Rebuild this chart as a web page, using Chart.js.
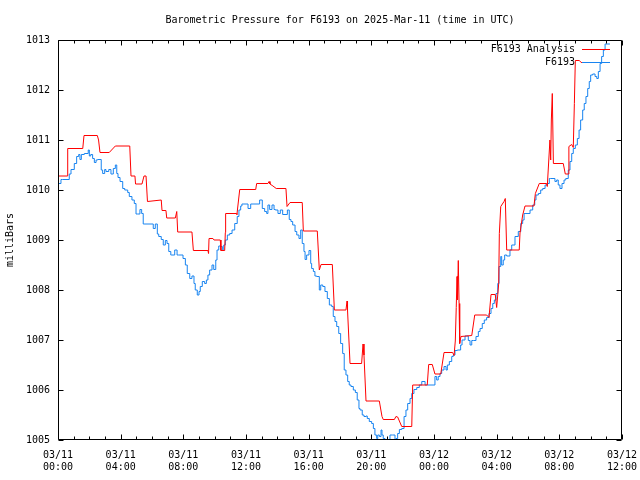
<!DOCTYPE html>
<html>
<head>
<meta charset="utf-8">
<title>Barometric Pressure for F6193</title>
<script src="https://cdn.jsdelivr.net/npm/chart.js@4.4.1/dist/chart.umd.min.js"></script>
<style>
  html, body { margin: 0; padding: 0; background: #fff; }
  canvas { display: block; }
</style>
</head>
<body>
<canvas id="chart" width="640" height="480"></canvas>
<script>
// Text
const titleText = 'Barometric Pressure for F6193 on 2025-Mar-11 (time in UTC)';
const yAxisLabel = 'milliBars';
const seriesNames = ['F6193 Analysis', 'F6193'];

// X ticks every 4 hours from 03/11 00:00
const dateLabels = ['03/11', '03/11', '03/11', '03/11', '03/11', '03/11', '03/12', '03/12', '03/12', '03/12'];
const timeLabels = ['00:00', '04:00', '08:00', '12:00', '16:00', '20:00', '00:00', '04:00', '08:00', '12:00'];
const yTicks = [1005, 1006, 1007, 1008, 1009, 1010, 1011, 1012, 1013];

// Analysis series (hours since 03/11 00:00 UTC, mbar)
const analysisHours = [
  0, 0.59, 0.62, 1.58, 1.66, 2.51, 2.59, 2.68,
  3.27, 3.66, 4.58, 4.66, 4.91, 4.95, 5.36, 5.49,
  5.62, 5.71, 6.59, 6.64, 6.89, 6.94, 7.49, 7.58,
  7.64, 8.55, 8.64, 9.57, 9.61, 9.64, 9.89, 9.96,
  10.36, 10.40, 10.64, 10.68, 10.70, 11.38, 11.42, 11.60,
  12.62, 12.68, 13.40, 13.47, 13.53, 13.72, 13.93, 14.55,
  14.62, 14.81, 15.59, 15.66, 16.55, 16.68, 16.79, 17.51,
  17.64, 18.38, 18.45, 18.48, 18.64, 19.38, 19.47, 19.53,
  19.66, 20.51, 20.68, 20.76, 21.47, 21.57, 21.68, 21.94,
  22.58, 22.64, 23.57, 23.66, 23.89, 24.06, 24.43, 24.64,
  25.19, 25.28, 25.36, 25.42, 25.47, 25.50, 25.55, 25.60,
  25.64, 25.72, 26.41, 26.60, 27.36, 27.51, 27.64, 27.91,
  28.00, 28.13, 28.17, 28.26, 28.47, 28.55, 28.64, 29.44,
  29.49, 29.66, 29.81, 30.38, 30.47, 30.72, 31.19, 31.23,
  31.40, 31.45, 31.49, 31.55, 31.62, 32.25, 32.38, 32.57,
  32.61, 32.79, 32.89, 32.96, 33.02, 33.28, 33.39, 33.51
];
const analysisValues = [
  1010.28, 1010.28, 1010.83, 1010.83, 1011.09, 1011.09, 1011.00, 1010.75,
  1010.75, 1010.88, 1010.88, 1010.28, 1010.28, 1010.12, 1010.12, 1010.28,
  1010.28, 1009.77, 1009.80, 1009.59, 1009.59, 1009.44, 1009.44, 1009.57,
  1009.16, 1009.16, 1008.79, 1008.79, 1008.73, 1009.03, 1009.03, 1009.00,
  1009.00, 1008.79, 1008.79, 1009.15, 1009.53, 1009.53, 1009.51, 1010.01,
  1010.01, 1010.13, 1010.13, 1010.17, 1010.12, 1010.08, 1010.03, 1010.03,
  1009.67, 1009.75, 1009.75, 1009.18, 1009.18, 1008.40, 1008.51, 1008.51,
  1007.60, 1007.60, 1007.78, 1007.60, 1006.53, 1006.53, 1006.92, 1006.70,
  1005.78, 1005.78, 1005.47, 1005.41, 1005.41, 1005.47, 1005.46, 1005.27,
  1005.27, 1006.10, 1006.10, 1006.51, 1006.51, 1006.32, 1006.32, 1006.75,
  1006.75, 1006.69, 1006.98, 1007.65, 1008.27, 1007.80, 1008.59, 1007.73,
  1006.93, 1007.07, 1007.09, 1007.50, 1007.50, 1007.45, 1007.91, 1007.91,
  1007.65, 1008.13, 1009.13, 1009.67, 1009.77, 1009.83, 1008.80, 1008.80,
  1009.14, 1009.50, 1009.68, 1009.68, 1009.93, 1010.13, 1010.13, 1010.07,
  1011.00, 1010.60, 1011.40, 1011.93, 1010.53, 1010.53, 1010.32, 1010.32,
  1010.87, 1010.91, 1010.85, 1011.73, 1012.59, 1012.59, 1012.55, 1012.55
];

// Station observations
const stationHours = [
  0, 0.19, 0.30, 0.72, 0.83, 1.04, 1.19, 1.32, 1.40, 1.49,
  1.68, 1.93, 2.00, 2.09, 2.21, 2.32, 2.43, 2.53, 2.76, 2.85,
  2.98, 3.06, 3.24, 3.38, 3.53, 3.66, 3.75, 3.83, 3.96, 4.13,
  4.26, 4.45, 4.55, 4.72, 4.87, 4.98, 5.09, 5.23, 5.34, 5.44,
  5.55, 6.08, 6.21, 6.34, 6.43, 6.59, 6.72, 6.85, 6.96, 7.07,
  7.20, 7.23, 7.45, 7.60, 7.70, 7.98, 8.13, 8.25, 8.41, 8.55,
  8.68, 8.76, 8.89, 9.00, 9.08, 9.21, 9.36, 9.47, 9.57, 9.68,
  9.83, 9.94, 10.07, 10.15, 10.26, 10.39, 10.49, 10.58, 10.68, 10.81,
  10.96, 11.11, 11.28, 11.44, 11.55, 11.66, 11.74, 11.87, 12.13, 12.30,
  12.45, 12.87, 13.04, 13.19, 13.32, 13.40, 13.51, 13.66, 13.79, 13.87,
  14.04, 14.19, 14.34, 14.49, 14.64, 14.76, 14.87, 14.98, 15.13, 15.24,
  15.38, 15.49, 15.59, 15.70, 15.77, 15.87, 16.02, 16.13, 16.19, 16.30,
  16.40, 16.51, 16.68, 16.77, 16.90, 17.04, 17.19, 17.32, 17.47, 17.57,
  17.68, 17.79, 17.92, 18.04, 18.17, 18.27, 18.38, 18.49, 18.59, 18.70,
  18.85, 18.98, 19.10, 19.21, 19.28, 19.42, 19.53, 19.66, 19.74, 19.87,
  20.02, 20.13, 20.23, 20.34, 20.41, 20.51, 20.62, 20.68, 20.76, 20.87,
  20.94, 21.06, 21.19, 21.36, 21.51, 21.57, 21.68, 21.79, 21.94, 22.09,
  22.21, 22.32, 22.47, 22.58, 22.72, 22.90, 23.06, 23.22, 23.43, 23.53,
  24.06, 24.17, 24.27, 24.38, 24.49, 24.64, 24.77, 24.85, 24.98, 25.13,
  25.23, 25.34, 25.49, 25.70, 25.79, 25.98, 26.09, 26.19, 26.30, 26.41,
  26.51, 26.68, 26.83, 26.94, 27.08, 27.21, 27.36, 27.51, 27.64, 27.75,
  27.85, 27.96, 28.07, 28.15, 28.26, 28.32, 28.42, 28.51, 28.64, 28.85,
  28.96, 29.17, 29.38, 29.54, 29.66, 29.75, 29.87, 30.13, 30.30, 30.43,
  30.51, 30.66, 30.81, 30.94, 31.09, 31.23, 31.36, 31.45, 31.72, 31.83,
  31.93, 32.04, 32.17, 32.30, 32.41, 32.57, 32.68, 32.79, 32.89, 33.02,
  33.15, 33.26, 33.36, 33.49, 33.59, 33.70, 33.81, 33.91, 34.00, 34.13,
  34.28, 34.39, 34.49, 34.60, 34.70, 34.81, 34.92, 35.23
];
const stationValues = [
  1010.21, 1010.13, 1010.21, 1010.21, 1010.32, 1010.41, 1010.53, 1010.67, 1010.71, 1010.61,
  1010.71, 1010.73, 1010.80, 1010.68, 1010.71, 1010.63, 1010.55, 1010.60, 1010.61, 1010.40,
  1010.33, 1010.41, 1010.37, 1010.41, 1010.32, 1010.43, 1010.50, 1010.33, 1010.25, 1010.17,
  1010.03, 1010.00, 1009.95, 1009.87, 1009.80, 1009.73, 1009.52, 1009.52, 1009.61, 1009.53,
  1009.32, 1009.32, 1009.23, 1009.32, 1009.12, 1009.07, 1009.01, 1008.90, 1008.99, 1008.93,
  1008.77, 1008.70, 1008.70, 1008.80, 1008.70, 1008.70, 1008.63, 1008.50, 1008.33, 1008.23,
  1008.28, 1008.13, 1008.00, 1007.90, 1007.97, 1008.07, 1008.17, 1008.13, 1008.20, 1008.30,
  1008.40, 1008.50, 1008.41, 1008.60, 1008.80, 1008.88, 1008.87, 1008.79, 1008.90, 1009.00,
  1009.10, 1009.13, 1009.20, 1009.33, 1009.47, 1009.60, 1009.68, 1009.72, 1009.72, 1009.63,
  1009.72, 1009.72, 1009.80, 1009.63, 1009.57, 1009.53, 1009.70, 1009.61, 1009.70, 1009.61,
  1009.60, 1009.53, 1009.60, 1009.51, 1009.51, 1009.60, 1009.41, 1009.37, 1009.30, 1009.17,
  1009.10, 1009.03, 1009.20, 1008.93, 1008.77, 1008.61, 1008.70, 1008.79, 1008.53, 1008.43,
  1008.37, 1008.28, 1008.27, 1008.00, 1008.10, 1008.07, 1007.97, 1007.83, 1007.70, 1007.67,
  1007.47, 1007.37, 1007.27, 1007.13, 1006.93, 1006.73, 1006.40, 1006.30, 1006.17, 1006.10,
  1006.07, 1006.00, 1005.95, 1005.80, 1005.63, 1005.60, 1005.50, 1005.47, 1005.48, 1005.43,
  1005.37, 1005.33, 1005.23, 1005.10, 1005.03, 1005.10, 1005.07, 1005.20, 1005.10, 1005.03,
  1004.97, 1004.90, 1005.00, 1005.10, 1005.10, 1005.01, 1005.03, 1005.13, 1005.21, 1005.23,
  1005.47, 1005.60, 1005.73, 1005.83, 1005.93, 1006.01, 1006.05, 1006.10, 1006.17, 1006.10,
  1006.10, 1006.27, 1006.20, 1006.27, 1006.33, 1006.40, 1006.47, 1006.40, 1006.50, 1006.57,
  1006.67, 1006.70, 1006.79, 1006.80, 1006.90, 1007.00, 1007.08, 1007.08, 1006.99, 1006.90,
  1006.99, 1006.99, 1007.07, 1007.17, 1007.23, 1007.33, 1007.40, 1007.45, 1007.53, 1007.63,
  1007.73, 1007.80, 1007.93, 1008.13, 1008.47, 1008.67, 1008.50, 1008.60, 1008.70, 1008.68,
  1008.80, 1008.90, 1009.07, 1009.17, 1009.33, 1009.40, 1009.53, 1009.53, 1009.60, 1009.70,
  1009.80, 1009.90, 1009.93, 1010.00, 1010.03, 1010.10, 1010.13, 1010.23, 1010.23, 1010.17,
  1010.20, 1010.10, 1010.03, 1010.13, 1010.20, 1010.23, 1010.40, 1010.57, 1010.73, 1010.83,
  1010.90, 1011.03, 1011.20, 1011.40, 1011.60, 1011.73, 1011.87, 1012.03, 1012.17, 1012.30,
  1012.32, 1012.27, 1012.23, 1012.37, 1012.53, 1012.67, 1012.80, 1012.92
];

const RED = '#ff0000';
const BLUE = '#1884f0';
const MONO = "'DejaVu Sans Mono', 'Liberation Mono', monospace";

const toPoints = (xs, ys) => xs.map((x, i) => ({ x, y: ys[i] }));

// gnuplot-like frame: border, inward ticks on all sides, and the key
const framePlugin = {
  id: 'gnuplotFrame',
  afterDraw(chart) {
    const { ctx, chartArea: a, scales } = chart;
    const xs = scales.x, ys = scales.y;
    const L = Math.round(a.left) + 0.5, R = Math.round(a.right) - 0.5;
    const T = Math.round(a.top) + 0.5, B = Math.round(a.bottom) - 0.5;
    ctx.save();
    ctx.strokeStyle = '#000';
    ctx.lineWidth = 1;
    ctx.beginPath();
    ctx.rect(L, T, R - L, B - T);
    // x ticks: major every 4 h, minor every hour
    for (let h = 0; h <= 36; h++) {
      const px = Math.round(xs.getPixelForValue(h)) + 0.5;
      const len = h % 4 === 0 ? 5 : 3;
      ctx.moveTo(px, B); ctx.lineTo(px, B - len);
      ctx.moveTo(px, T); ctx.lineTo(px, T + len);
    }
    yTicks.forEach(v => {
      const py = Math.round(ys.getPixelForValue(v)) + 0.5;
      ctx.moveTo(L, py); ctx.lineTo(L + 5, py);
      ctx.moveTo(R, py); ctx.lineTo(R - 5, py);
    });
    ctx.stroke();

    // key
    ctx.font = '10px ' + MONO;
    ctx.fillStyle = '#000';
    ctx.textAlign = 'right';
    ctx.textBaseline = 'middle';
    const keyColors = [RED, BLUE];
    seriesNames.forEach((name, i) => {
      const y = 49 + i * 13;
      ctx.fillText(name, 575, y);
      ctx.strokeStyle = keyColors[i];
      ctx.beginPath();
      ctx.moveTo(582, y + 0.5);
      ctx.lineTo(610, y + 0.5);
      ctx.stroke();
    });
    ctx.restore();
  }
};

new Chart(document.getElementById('chart'), {
  type: 'line',
  data: {
    datasets: [
      {
        label: seriesNames[0],
        data: toPoints(analysisHours, analysisValues),
        borderColor: RED,
        borderWidth: 1,
        pointRadius: 0,
        tension: 0
      },
      {
        label: seriesNames[1],
        data: toPoints(stationHours, stationValues),
        borderColor: BLUE,
        borderWidth: 1,
        pointRadius: 0,
        stepped: 'after',
        tension: 0
      }
    ]
  },
  options: {
    responsive: false,
    animation: false,
    events: [],
    layout: { padding: { top: 0, right: 18, bottom: 0, left: 0 } },
    plugins: {
      legend: { display: false },
      tooltip: { enabled: false },
      title: {
        display: true,
        text: titleText,
        fullSize: false,
        color: '#000',
        font: { family: MONO, size: 10, weight: 'normal' },
        padding: { top: 14, bottom: 14 }
      }
    },
    scales: {
      x: {
        type: 'linear',
        min: 0,
        max: 36,
        grid: { display: false, drawTicks: false },
        border: { display: false },
        ticks: {
          stepSize: 4,
          autoSkip: false,
          maxRotation: 0,
          padding: 9,
          color: '#000',
          font: { family: MONO, size: 10 },
          callback: v => [dateLabels[v / 4], timeLabels[v / 4]]
        },
        afterFit: s => {
          s.height = 40;
          s.paddingLeft = 0;
          s.paddingRight = 0;
        }
      },
      y: {
        min: 1005,
        max: 1013,
        grid: { display: false, drawTicks: false },
        border: { display: false },
        ticks: {
          stepSize: 1,
          padding: 8,
          color: '#000',
          font: { family: MONO, size: 10 },
          callback: v => String(v)
        },
        title: {
          display: true,
          text: yAxisLabel,
          color: '#000',
          font: { family: MONO, size: 10 },
          padding: { top: 4, bottom: 0 }
        },
        afterFit: s => {
          s.width = 58;
          s.paddingTop = 0;
          s.paddingBottom = 0;
        }
      }
    }
  },
  plugins: [framePlugin]
});
</script>
</body>
</html>
